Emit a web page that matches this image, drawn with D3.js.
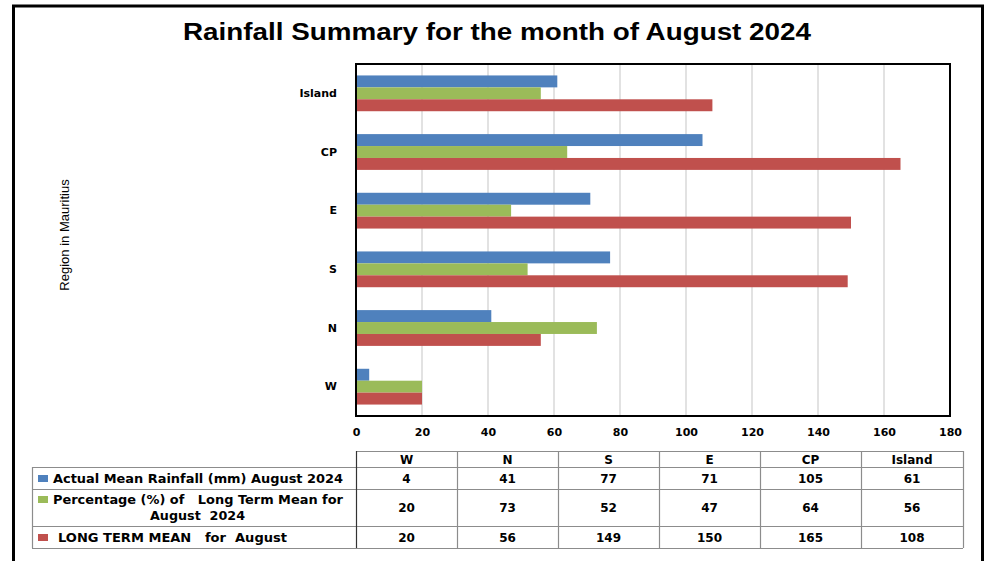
<!DOCTYPE html>
<html>
<head>
<meta charset="utf-8">
<script src="https://cdn.jsdelivr.net/npm/d3@7"></script>
<style>
  body { margin: 0; background: #fff; }
  svg { display: block; }
  text { white-space: pre; }
</style>
</head>
<body>
<div id="chart"></div>
<script>
// data
const regions = ["W", "N", "S", "E", "CP", "Island"];
const actualRain = [4, 41, 77, 71, 105, 61];
const percentOfMean = [20, 73, 52, 47, 64, 56];
const longTermMean = [20, 56, 149, 150, 165, 108];
const seriesLabels = [
  ["Actual Mean Rainfall (mm) August 2024"],
  ["Percentage (%) of   Long Term Mean for", "August  2024"],
  ["LONG TERM MEAN   for  August"]
];
const seriesColors = ["#4F81BD", "#9BBB59", "#C0504D"];
const xTicks = [0, 20, 40, 60, 80, 100, 120, 140, 160, 180];

const series = [actualRain, percentOfMean, longTermMean];

const W = 984, H = 561;
const plot = { left: 356, right: 950, top: 64, bottom: 416 };
const boldFont = "'DejaVu Sans', Verdana, sans-serif";

const svg = d3.select('#chart').append('svg')
  .attr('width', W)
  .attr('height', H);

// outer frame (no bottom edge)
svg.append('path')
  .attr('d', `M13.5,${H} V6 H982.5 V${H}`)
  .attr('fill', 'none')
  .attr('stroke', '#000')
  .attr('stroke-width', 3);

// title
svg.append('text')
  .attr('x', 497)
  .attr('y', 40)
  .attr('text-anchor', 'middle')
  .attr('font-family', "'Liberation Sans', Arial, sans-serif")
  .attr('font-weight', 'bold')
  .attr('font-size', 23)
  .attr('textLength', 628)
  .attr('lengthAdjust', 'spacingAndGlyphs')
  .attr('fill', '#000')
  .text('Rainfall Summary for the month of August 2024');

// scales
const x = d3.scaleLinear().domain([0, 180]).range([plot.left, plot.right]);
const y = d3.scaleBand()
  .domain(regions.slice().reverse())
  .range([plot.top, plot.bottom])
  .paddingInner(0.39)
  .paddingOuter(0.195);
const ySub = d3.scaleBand().domain([0, 1, 2]).range([0, y.bandwidth()]);

// gridlines
svg.append('g')
  .selectAll('line')
  .data(xTicks.slice(1, -1))
  .join('line')
  .attr('x1', d => x(d)).attr('x2', d => x(d))
  .attr('y1', plot.top).attr('y2', plot.bottom)
  .attr('stroke', '#d9d9d9')
  .attr('stroke-width', 1.5);

// bars
const groups = svg.append('g')
  .selectAll('g')
  .data(regions)
  .join('g')
  .attr('transform', d => `translate(0,${y(d)})`);

groups.selectAll('rect')
  .data((d, i) => series.map((s, k) => ({ k, v: s[i] })))
  .join('rect')
  .attr('x', x(0))
  .attr('y', d => ySub(d.k))
  .attr('width', d => x(d.v) - x(0))
  .attr('height', ySub.bandwidth())
  .attr('fill', d => seriesColors[d.k]);

// plot border
svg.append('rect')
  .attr('x', plot.left)
  .attr('y', plot.top)
  .attr('width', plot.right - plot.left)
  .attr('height', plot.bottom - plot.top)
  .attr('fill', 'none')
  .attr('stroke', '#000')
  .attr('stroke-width', 2);

// x axis labels
const xAxis = svg.append('g')
  .attr('transform', `translate(0,${plot.bottom})`)
  .call(d3.axisBottom(x).tickValues(xTicks).tickSize(0).tickPadding(12));
xAxis.select('.domain').remove();
xAxis.selectAll('text')
  .attr('font-family', boldFont)
  .attr('font-weight', 'bold')
  .attr('font-size', 11)
  .attr('fill', '#000');

// y axis labels
const yAxis = svg.append('g')
  .attr('transform', `translate(${plot.left},0)`)
  .call(d3.axisLeft(y).tickSize(0).tickPadding(19));
yAxis.select('.domain').remove();
yAxis.selectAll('text')
  .attr('font-family', boldFont)
  .attr('font-weight', 'bold')
  .attr('font-size', 11)
  .attr('fill', '#000');

// y axis title
svg.append('text')
  .attr('transform', `translate(69,235) rotate(-90)`)
  .attr('text-anchor', 'middle')
  .attr('font-family', "'Liberation Sans', Arial, sans-serif")
  .attr('font-size', 13)
  .attr('fill', '#000')
  .text('Region in Mauritius');

// data table
const colEdges = [356, 457, 558, 659, 760, 861, 963];
const rowEdges = [451, 467, 489, 526, 548];
const tableLeft = 32;
const table = svg.append('g');
const grey = '#8c8c8c';

// horizontal lines
rowEdges.forEach((ry, i) => {
  table.append('line')
    .attr('x1', i === 0 ? colEdges[0] : tableLeft)
    .attr('x2', colEdges[colEdges.length - 1])
    .attr('y1', ry + 0.5).attr('y2', ry + 0.5)
    .attr('stroke', grey).attr('stroke-width', 1.2);
});
// vertical lines
colEdges.forEach((cx, i) => {
  table.append('line')
    .attr('x1', cx + 0.5).attr('x2', cx + 0.5)
    .attr('y1', rowEdges[0]).attr('y2', rowEdges[4])
    .attr('stroke', i === 0 ? '#333' : grey).attr('stroke-width', 1.2);
});
table.append('line')
  .attr('x1', tableLeft + 0.5).attr('x2', tableLeft + 0.5)
  .attr('y1', rowEdges[1]).attr('y2', rowEdges[4])
  .attr('stroke', grey).attr('stroke-width', 1.2);

const tableText = (sel) => sel
  .attr('font-family', boldFont)
  .attr('font-weight', 'bold')
  .attr('font-size', 12)
  .attr('fill', '#000');

// header
regions.forEach((r, i) => {
  table.append('text')
    .attr('x', (colEdges[i] + colEdges[i + 1]) / 2)
    .attr('y', (rowEdges[0] + rowEdges[1]) / 2 + 4.5)
    .attr('text-anchor', 'middle')
    .call(tableText)
    .text(r);
});

// label extents: [x start, width] for each text line
const labelBoxes = [[[53, 290]], [[53, 290], [150, 95]], [[58, 229]]];

// series rows
series.forEach((s, k) => {
  const top = rowEdges[k + 1], bot = rowEdges[k + 2];
  const mid = (top + bot) / 2;
  const lines = seriesLabels[k];
  table.append('rect')
    .attr('x', 38)
    .attr('y', lines.length > 1 ? top + 7 : mid - 3)
    .attr('width', 10)
    .attr('height', 7)
    .attr('fill', seriesColors[k]);
  lines.forEach((ln, j) => {
    const [lx, lw] = labelBoxes[k][j];
    table.append('text')
      .attr('x', lx)
      .attr('y', lines.length > 1 ? top + 15 + j * 16 : mid + 4.5)
      .attr('textLength', lw)
      .attr('lengthAdjust', 'spacingAndGlyphs')
      .call(tableText)
      .text(ln);
  });
  s.forEach((v, i) => {
    table.append('text')
      .attr('x', (colEdges[i] + colEdges[i + 1]) / 2)
      .attr('y', mid + 4.5)
      .attr('text-anchor', 'middle')
      .call(tableText)
      .text(v);
  });
});
</script>
</body>
</html>
